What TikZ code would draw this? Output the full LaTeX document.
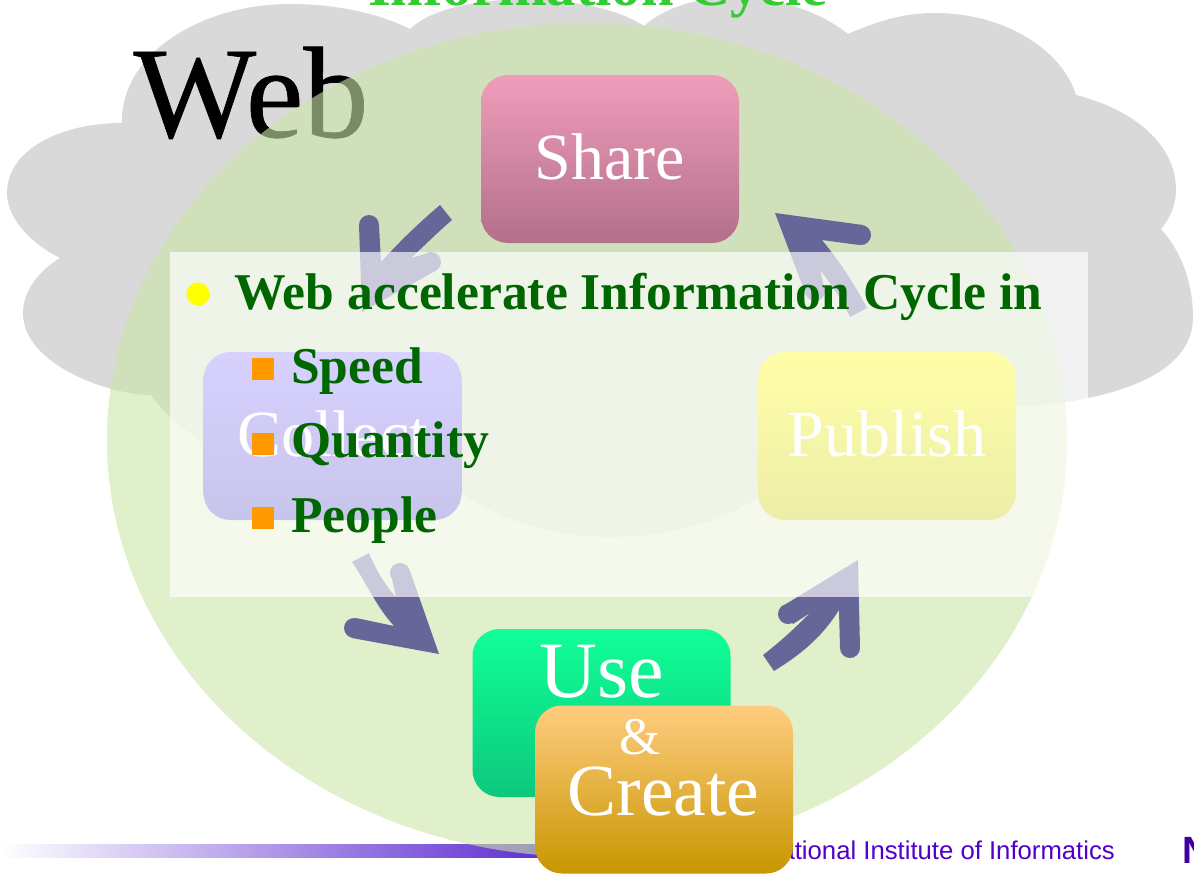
\documentclass[tikz,border=0pt]{standalone}
\usepackage{fontspec}
\setmainfont{Liberation Serif}
\newfontfamily\footfont{Liberation Sans}
\newfontfamily\webfont[FakeBold=0.5]{Liberation Serif}
\newcommand{\pxfont}[1]{\fontsize{#1}{#1}\selectfont}
\tikzset{
    cyclebox/.style={rectangle,rounded corners=27pt,minimum width=258pt,minimum height=168pt,inner sep=0pt,text=white,text depth=4pt,font=\pxfont{66}},
    boxword/.style={anchor=base,inner sep=0pt,text=white},
    listitem/.style={anchor=base west,inner sep=0pt,text=listgreen,font=\bfseries\pxfont{51.6}},
    listmark/.style={fill=listorange,draw=none,minimum size=22pt,inner sep=0pt},
    cyclearrow/.style={fill=arrowblue}
}
\definecolor{cloudgrey}{HTML}{D9D9D9}
\definecolor{ellipsegreen}{HTML}{CBE6A7}
\definecolor{listgreen}{HTML}{006600}
\definecolor{listorange}{HTML}{FF9900}
\definecolor{listyellow}{HTML}{FFFF00}
\definecolor{arrowblue}{HTML}{666699}
\definecolor{titlegreen}{HTML}{33CC33}
\definecolor{footpurple}{HTML}{5000C8}
\definecolor{bartop}{HTML}{5E2FD0}
\definecolor{sharetop}{HTML}{F09DBB}
\definecolor{sharebottom}{HTML}{B2708A}
\definecolor{collecttop}{HTML}{8C7AFF}
\definecolor{collectbottom}{HTML}{5E55C8}
\definecolor{publishtop}{HTML}{FFFF00}
\definecolor{publishbottom}{HTML}{CCCC00}
\definecolor{usetop}{HTML}{10FF98}
\definecolor{usebottom}{HTML}{0CC87C}
\definecolor{createtop}{HTML}{FFCC80}
\definecolor{createmiddle}{HTML}{EBAB33}
\definecolor{createbottom}{HTML}{C89600}
\begin{document}
\begin{tikzpicture}[x=1pt,y=-1pt]
        \clip (0,0) rectangle (1194,873);
        \fill[white] (0,0) rectangle (1194,873);
        \fill[cloudgrey] (122,123) .. controls (120,55) and (200,4) .. (290,4)
            .. controls (335,4) and (378,13) .. (410,29)
            .. controls (450,-10) and (590,-10) .. (644,26)
            .. controls (690,-15) and (790,-12) .. (848,34)
            .. controls (880,20) and (905,13) .. (935,13)
            .. controls (1005,13) and (1062,50) .. (1076,95)
            .. controls (1135,110) and (1176,145) .. (1176,190)
            .. controls (1176,205) and (1170,218) .. (1161,229)
            .. controls (1182,252) and (1193,285) .. (1193,317)
            .. controls (1193,360) and (1150,385) .. (1088,398)
            .. controls (1060,404) and (1040,406) .. (1016,406)
            .. controls (960,406) and (880,420) .. (790,470)
            .. controls (750,515) and (680,537) .. (610,537)
            .. controls (540,537) and (490,515) .. (440,480)
            .. controls (350,490) and (255,480) .. (203,443)
            .. controls (185,430) and (165,415) .. (151,395)
            .. controls (110,395) and (23,365) .. (23,313)
            .. controls (23,290) and (40,270) .. (60,258)
            .. controls (25,240) and (7,215) .. (7,193)
            .. controls (7,150) and (60,123) .. (122,123) -- cycle;
        \shade[left color=white,right color=bartop] (0,844) rectangle (545,857);
        \node[anchor=base,inner sep=0pt,text=titlegreen,font=\bfseries\pxfont{58.5}] (title) at (598,5) {Information Cycle};
        \node[anchor=base,inner sep=0pt,font=\webfont\pxfont{130}] (web) at (251,137) {Web};
        \fill[ellipsegreen,opacity=0.6] (587,440) ellipse [x radius=480,y radius=417];
        \node[anchor=base east,inner sep=0pt,text=footpurple,font=\footfont\pxfont{25.7}] (institute) at (1115,859) {National Institute of Informatics};
        \node[anchor=base west,inner sep=0pt,text=footpurple!80!black,font=\footfont\bfseries\pxfont{38}] (logo) at (1182,863) {N};
        \node[cyclebox,top color=sharetop,bottom color=sharebottom] (share) at (610,159) {Share};
        \node[cyclebox,top color=collecttop,bottom color=collectbottom] (collect) at (332.5,436) {Collect};
        \node[cyclebox,top color=publishtop,bottom color=publishbottom] (publish) at (887,436) {Publish};
        \node[cyclebox,top color=usetop,bottom color=usebottom] (use) at (601.5,713) {};
        \node[boxword,font=\pxfont{80}] (useword) at (601.5,697) {Use};
        \node[cyclebox,top color=createtop,middle color=createmiddle,bottom color=createbottom] (create) at (664,789.5) {};
        \node[boxword,font=\pxfont{53}] (andword) at (640,754) {\&};
        \node[boxword,font=\pxfont{73.5}] (createword) at (663.5,815) {Create};
        \fill[cyclearrow] (440,205) .. controls (420,222) and (403,238) .. (381,262) -- (379,225) -- (359,225) -- (362,312) -- (437,270) -- (425,254) -- (411,258) .. controls (425,245) and (438,232) .. (452,220) -- cycle;
        \fill[cyclearrow] (369,225) circle [radius=10];
        \fill[cyclearrow] (431,262) circle [radius=10];
        \fill[cyclearrow] (775,213) -- (863,225) -- (859,245) -- (822,240) .. controls (840,262) and (855,285) .. (867,308) -- (850,317) .. controls (842,300) and (832,285) .. (820,270) -- (824,287) -- (806,295) -- cycle;
        \fill[cyclearrow] (861,235) circle [radius=10];
        \fill[cyclearrow] (815,291) circle [radius=10];
        \fill[cyclearrow] (858,560) -- (860,648) -- (840,648) -- (839,610) .. controls (820,640) and (798,656) .. (774,671) -- (763,655) .. controls (780,642) and (795,628) .. (810,613) -- (793,624) -- (781,607) -- cycle;
        \fill[cyclearrow] (850,648) circle [radius=10];
        \fill[cyclearrow] (788,614) circle [radius=10];
        \fill[cyclearrow] (439,654) -- (352,638) -- (356,618) -- (394,626) .. controls (375,605) and (365,580) .. (352,562) -- (369,553) .. controls (376,570) and (385,585) .. (396,597) -- (391,575) -- (410,571) -- cycle;
        \fill[cyclearrow] (354,628) circle [radius=10];
        \fill[cyclearrow] (400,573) circle [radius=10];
        \fill[white,opacity=0.66] (170,252) rectangle (1088,597);
        \fill[listyellow] (198,294) ellipse [x radius=11.5,y radius=11.5];
        \node[listitem] (cycleline) at (234,309) {Web accelerate Information Cycle in};
        \node[listmark] (speedmark) at (263,369) {};
        \node[listitem] (speed) at (291,383) {Speed};
        \node[listmark] (quantitymark) at (263,444) {};
        \node[listitem] (quantity) at (291,457) {Quantity};
        \node[listmark] (peoplemark) at (263,518) {};
        \node[listitem] (people) at (291,532) {People};
\end{tikzpicture}
\end{document}
